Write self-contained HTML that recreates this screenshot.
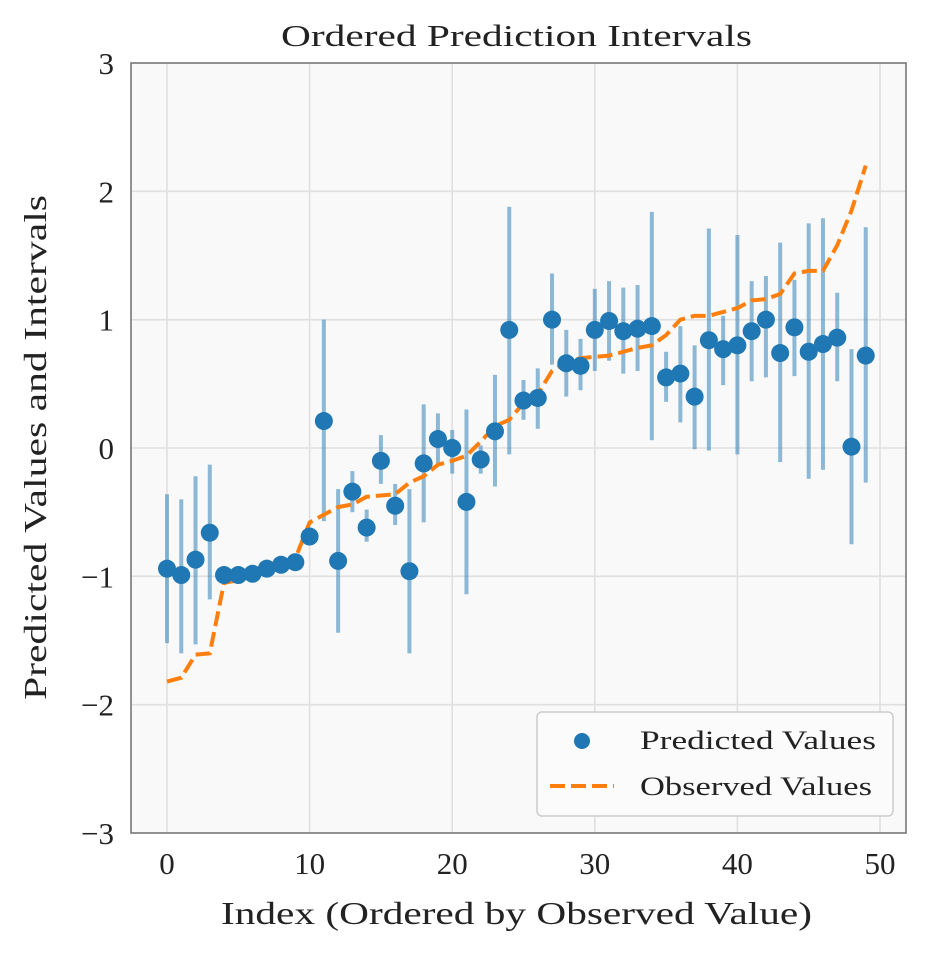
<!DOCTYPE html>
<html><head><meta charset="utf-8">
<style>
html,body{margin:0;padding:0;background:#fff;}
svg{display:block;font-family:"Liberation Serif","DejaVu Serif",serif;}
</style></head>
<body>
<svg id="chart" width="926" height="954" viewBox="0 0 926 954" xmlns="http://www.w3.org/2000/svg">
<rect x="0" y="0" width="926" height="954" fill="#fff"/>
<rect x="131" y="63" width="775" height="770" fill="#f9f9f9"/>
<g id="grid"></g>
<g id="bars"></g>
<g id="obs"></g>
<g id="pts"></g>
<rect x="131" y="63" width="775" height="770" fill="none" stroke="#777" stroke-width="1.6"/>
<g id="ticks"></g>
<text x="281" y="46" font-size="31" textLength="471" lengthAdjust="spacingAndGlyphs" fill="#222">Ordered Prediction Intervals</text>
<text x="221" y="924" font-size="32" textLength="591" lengthAdjust="spacingAndGlyphs" fill="#222">Index (Ordered by Observed Value)</text>
<text transform="translate(46,700) rotate(-90)" font-size="32" textLength="505" lengthAdjust="spacingAndGlyphs" fill="#222">Predicted Values and Intervals</text>
<g>
<rect x="537" y="712" width="356" height="104" rx="5" fill="#fbfbfb" stroke="#ccc" stroke-width="1.5"/>
<circle cx="582" cy="741" r="8" fill="#1f77b4"/>
<text x="640" y="749" font-size="26" textLength="236" lengthAdjust="spacingAndGlyphs" fill="#222">Predicted Values</text>
<line x1="550" y1="786" x2="614" y2="786" stroke="#ff7f0e" stroke-width="4" stroke-dasharray="15 6"/>
<text x="640" y="795" font-size="26" textLength="232" lengthAdjust="spacingAndGlyphs" fill="#222">Observed Values</text>
</g>
</svg>
<script>
const predicted=[-0.94,-0.99,-0.87,-0.66,-0.99,-0.99,-0.98,-0.94,-0.91,-0.89,-0.69,0.21,-0.88,-0.34,-0.62,-0.10,-0.45,-0.96,-0.12,0.07,0.00,-0.42,-0.09,0.13,0.92,0.37,0.39,1.00,0.66,0.64,0.92,0.99,0.91,0.93,0.95,0.55,0.58,0.40,0.84,0.77,0.80,0.91,1.00,0.74,0.94,0.75,0.81,0.86,0.01,0.72];
const lower=[-1.52,-1.60,-1.53,-1.18,-1.04,-1.04,-1.03,-0.99,-0.96,-0.94,-0.75,-0.57,-1.44,-0.50,-0.73,-0.28,-0.60,-1.60,-0.58,-0.12,-0.20,-1.14,-0.20,-0.30,-0.05,0.22,0.15,0.65,0.40,0.45,0.60,0.68,0.58,0.60,0.06,0.36,0.20,-0.01,-0.02,0.49,-0.05,0.52,0.55,-0.11,0.56,-0.24,-0.17,0.52,-0.75,-0.27];
const upper=[-0.36,-0.40,-0.22,-0.13,-0.94,-0.94,-0.93,-0.89,-0.86,-0.84,-0.63,1.00,-0.32,-0.18,-0.48,0.10,-0.28,-0.32,0.34,0.27,0.14,0.30,0.02,0.57,1.88,0.53,0.62,1.36,0.92,0.85,1.24,1.30,1.25,1.27,1.84,0.75,0.95,0.80,1.71,1.03,1.66,1.30,1.34,1.60,1.31,1.75,1.79,1.21,0.77,1.72];
const observed=[-1.82,-1.79,-1.61,-1.60,-1.05,-1.03,-1.00,-0.96,-0.92,-0.86,-0.58,-0.52,-0.46,-0.44,-0.38,-0.37,-0.36,-0.27,-0.22,-0.13,-0.10,-0.06,0.05,0.17,0.22,0.35,0.42,0.60,0.67,0.70,0.71,0.72,0.75,0.78,0.80,0.88,1.00,1.03,1.03,1.06,1.09,1.15,1.16,1.20,1.36,1.38,1.38,1.58,1.85,2.20];
const xTicks=[0,10,20,30,40,50];
const yTicks=[-3,-2,-1,0,1,2,3];

const NS="http://www.w3.org/2000/svg";
const X=v=>167+v*(880-167)/50;
const Y=v=>448-v*(770/6);
function mk(tag,attrs,parent){const e=document.createElementNS(NS,tag);for(const k in attrs)e.setAttribute(k,attrs[k]);parent.appendChild(e);return e;}
const grid=document.getElementById('grid'),ticks=document.getElementById('ticks');
xTicks.forEach(t=>{
  const g=mk('line',{x1:X(t),x2:X(t),y1:63,y2:833,stroke:'#e0e0e0','stroke-width':1.6},grid);
  
  
  const lb=mk('text',{x:X(t),y:874,'font-size':31,'text-anchor':'middle',fill:'#222'},ticks);
  lb.textContent=t;
  
  
});
yTicks.forEach(t=>{
  if(t>-3&&t<3){const g=mk('line',{x1:131,x2:906,y1:Y(t),y2:Y(t),stroke:'#e0e0e0','stroke-width':1.6},grid);
  
  }
  const lb=mk('text',{x:114,y:Y(t)+11,'font-size':31,'text-anchor':'end',fill:'#222'},ticks);
  lb.textContent=(t<0?'\u2212'+(-t):t);
  
  
});
const bars=document.getElementById('bars'),pts=document.getElementById('pts'),obs=document.getElementById('obs');
predicted.forEach((p,i)=>{
  const b=mk('line',{x1:X(i),x2:X(i),y1:Y(lower[i]),y2:Y(upper[i]),stroke:'#1f77b4','stroke-opacity':0.5,'stroke-width':4},bars);
  
  
});
const d=observed.map((v,i)=>(i?'L':'M')+X(i)+','+Y(v)).join(' ');
const ol=mk('path',{d:d,fill:'none',stroke:'#ff7f0e','stroke-width':4,'stroke-dasharray':'15 6'},obs);


predicted.forEach((p,i)=>{
  const c=mk('circle',{cx:X(i),cy:Y(p),r:9,fill:'#1f77b4'},pts);
  
  
});
</script>
</body></html>
